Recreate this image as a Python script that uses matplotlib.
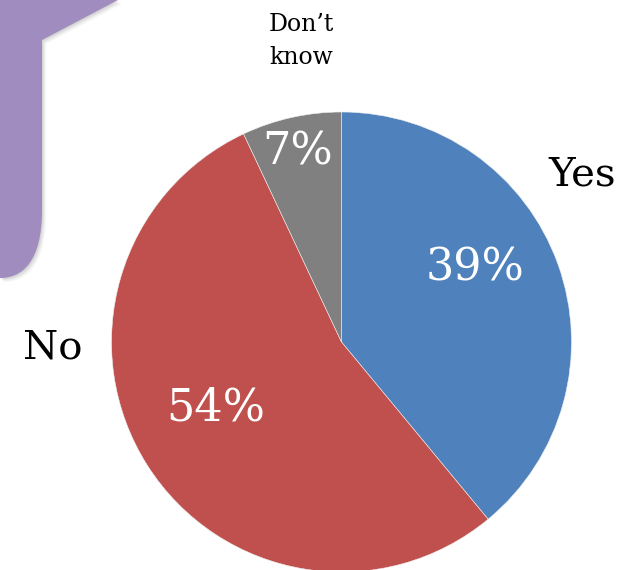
import matplotlib
matplotlib.use("Agg")
import matplotlib.pyplot as plt
from matplotlib.path import Path
from matplotlib.patches import PathPatch

# Survey answers
categories = ["Yes", "No", "Don\u2019t\nknow"]
shares = [39, 54, 7]
pct_labels = ["39%", "54%", "7%"]
colors = ["#4F81BD", "#C0504D", "#808080"]

W, H = 634, 570
fig = plt.figure(figsize=(W / 100, H / 100), dpi=100)
ax = fig.add_axes([0, 0, 1, 1])

def py(y):
    # convert a top-down pixel row to the upward axis coordinate
    return H - y

# decorative purple banner in the upper-left corner, with a soft drop shadow
def banner_path(dx=0, dy=0):
    verts = [(0, py(0)), (118, py(0)), (42, py(40)), (42, py(210)),
             (42, py(262)), (22, py(278)), (0, py(278)), (0, py(0))]
    codes = [Path.MOVETO, Path.LINETO, Path.LINETO, Path.LINETO,
             Path.CURVE4, Path.CURVE4, Path.CURVE4, Path.CLOSEPOLY]
    verts = [(x + dx, y - dy) for x, y in verts]
    return Path(verts, codes)

for k, a in zip(range(6, 0, -1), [0.03, 0.04, 0.05, 0.06, 0.07, 0.08]):
    ax.add_patch(PathPatch(banner_path(k * 0.7, k * 0.7), facecolor="#666666",
                           edgecolor="none", alpha=a))
ax.add_patch(PathPatch(banner_path(), facecolor="#A08CBF", edgecolor="none"))

# pie
cx, cy, r = 341.5, py(342), 230
ax.pie(shares, colors=colors, startangle=90, counterclock=False,
       center=(cx, cy), radius=r, frame=True,
       wedgeprops=dict(edgecolor="#eeeeee", linewidth=0.4))
ax.set_xlim(0, W)
ax.set_ylim(0, H)
ax.set_aspect("equal")
ax.axis("off")

serif = ["DejaVu Serif"]

# percentage labels inside the wedges (offsets in radius units)
pct_pos = [(0.58, 0.32), (-0.546, -0.287), (-0.19, 0.826)]
for (ox, oy), t in zip(pct_pos, pct_labels):
    ax.text(cx + ox * r, cy + oy * r, t, color="white", fontsize=32,
            family=serif, ha="center", va="center")

# category labels outside the pie
cat_pos = [(1.046, 0.728), (-1.254, -0.026), (-0.176, 1.309)]
cat_size = [29, 29, 17]
for (ox, oy), t, s in zip(cat_pos, categories, cat_size):
    ax.text(cx + ox * r, cy + oy * r, t, color="black", fontsize=s,
            family=serif, ha="center", va="center", linespacing=1.6)

fig.savefig("out.png", dpi=100)
